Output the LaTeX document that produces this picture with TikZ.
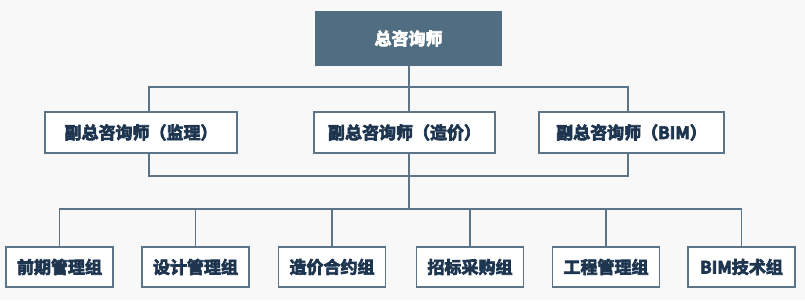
\documentclass[tikz,border=0pt]{standalone}
\usepackage{fontspec}
\newfontfamily\cjk{Noto Sans CJK SC}[BoldFont={Noto Sans CJK SC Bold},BoldFeatures={FakeBold=4}]
\definecolor{bgc}{HTML}{F8F8F8}
\definecolor{topc}{HTML}{506D82}
\definecolor{linec}{HTML}{5B7487}
\definecolor{txtc}{HTML}{1E3550}
\begin{document}
\begin{tikzpicture}[x=1pt,y=-1pt,
  box/.style={draw=linec,line width=1.3pt,fill=white,inner sep=0pt,text=txtc,font=\cjk\bfseries\fontsize{17}{19}\selectfont},
  conn/.style={draw=linec,line width=1.3pt}]
\fill[bgc] (0,0) rectangle (805,300);
\useasboundingbox (0,0) rectangle (805,300);
\node[box,fill=topc,draw=topc,text=white,minimum width=185pt,minimum height=53pt] (top) at (408.5,38.5) {总咨询师};
\node[box,minimum width=192pt,minimum height=41pt] (m1) at (141,132.5) {副总咨询师（监理）};
\node[box,minimum width=181pt,minimum height=41pt] (m2) at (404.5,132.5) {副总咨询师（造价）};
\node[box,minimum width=185pt,minimum height=41pt] (m3) at (631.5,132.5) {副总咨询师（BIM）};
\foreach \i/\cx/\t in {1/59.5/前期管理组,2/195.5/设计管理组,3/332/造价合约组,4/470/招标采购组,5/606/工程管理组,6/741.5/BIM技术组}{
  \node[box,minimum width=107pt,minimum height=40pt] (b\i) at (\cx,267) {\t};
}
\coordinate (h1) at (409,87);
\coordinate (h2) at (409,176);
\coordinate (h3) at (409,209);
\draw[conn] (top.south -| h1) -- (h1);
\draw[conn] (m1.north -| 149,0) |- (h1) -| (m3.north -| 628,0);
\draw[conn] (h1) -- (m2.north -| h1);
\draw[conn] (m1.south -| 149,0) |- (h2) -| (m3.south -| 628,0);
\draw[conn] (m2.south -| h2) -- (h2) -- (h3);
\draw[conn] (b1.north) |- (h3) -| (b6.north);
\foreach \i in {2,3,4,5}{\draw[conn] (b\i.north) -- (b\i.north |- h3);}
\end{tikzpicture}
\end{document}
